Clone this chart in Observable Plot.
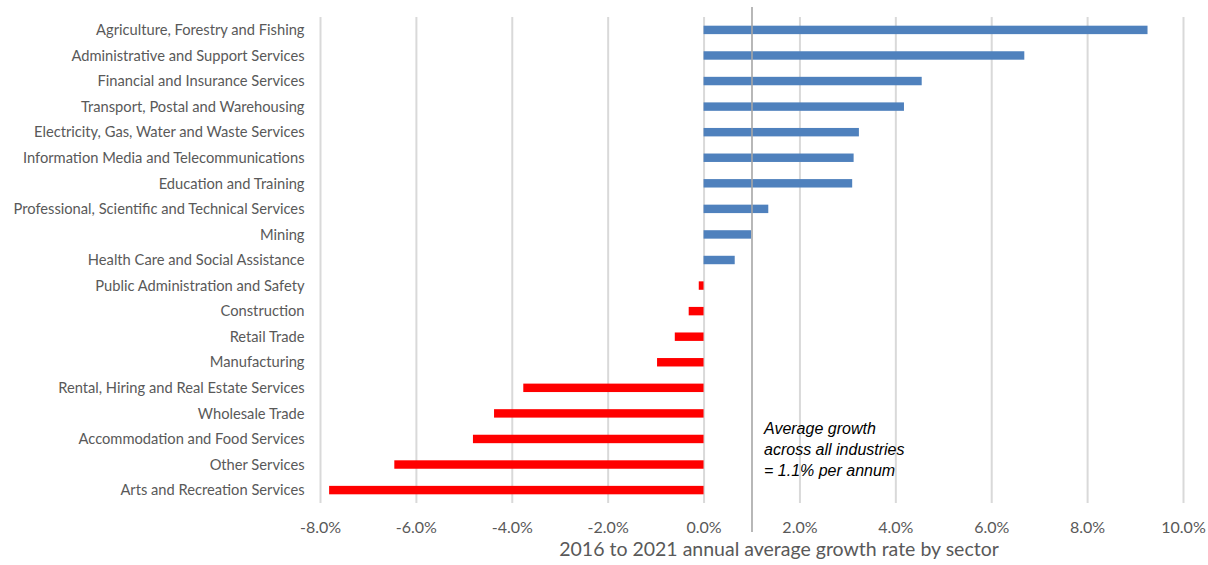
<!DOCTYPE html>
<html>
<head>
<meta charset="utf-8">
<script src="https://cdn.jsdelivr.net/npm/d3@7"></script>
<script src="https://cdn.jsdelivr.net/npm/@observablehq/plot@0.6"></script>
<style>
  html, body { margin: 0; padding: 0; background: #fff; }
  #chart svg { display: block; }
</style>
</head>
<body>
<div id="chart"></div>
<script>
const sectors = [
  "Agriculture, Forestry and Fishing",
  "Administrative and Support Services",
  "Financial and Insurance Services",
  "Transport, Postal and Warehousing",
  "Electricity, Gas, Water and Waste Services",
  "Information Media and Telecommunications",
  "Education and Training",
  "Professional, Scientific and Technical Services",
  "Mining",
  "Health Care and Social Assistance",
  "Public Administration and Safety",
  "Construction",
  "Retail Trade",
  "Manufacturing",
  "Rental, Hiring and Real Estate Services",
  "Wholesale Trade",
  "Accommodation and Food Services",
  "Other Services",
  "Arts and Recreation Services"
];
const growth = [9.26, 6.69, 4.55, 4.18, 3.24, 3.13, 3.10, 1.35, 0.99, 0.65,
  -0.10, -0.31, -0.60, -0.97, -3.76, -4.37, -4.81, -6.45, -7.81];
const xTicks = [-8, -6, -4, -2, 0, 2, 4, 6, 8, 10];
const avgLine = [1.0];
const annotation = "Average growth\nacross all industries\n= 1.1% per annum";
const axisTitle = "2016 to 2021 annual average growth rate by sector";

const data = sectors.map((s, i) => ({sector: s, value: growth[i]}));

const labelFont = "Lato, 'Open Sans', sans-serif";

const chart = Plot.plot({
  width: 1208,
  height: 565,
  marginLeft: 320,
  marginRight: 25,
  marginTop: 17,
  marginBottom: 62,
  style: {fontFamily: labelFont, color: "#595959", background: "#fff"},
  x: {domain: [-8, 10]},
  y: {domain: sectors, paddingInner: 0.67, paddingOuter: 0.34, round: false},
  marks: [
    Plot.gridX(xTicks, {stroke: "#d9d9d9", strokeOpacity: 1, strokeWidth: 2}),
    Plot.barX(data, {
      y: "sector",
      x1: 0,
      x2: "value",
      fill: d => d.value >= 0 ? "#4f81bd" : "#ff0000"
    }),
    Plot.ruleX(avgLine, {stroke: "#a6a6a6", strokeWidth: 1.6, insetTop: -10, insetBottom: -29, clip: false}),
    Plot.axisY({tickSize: 0, tickPadding: 16, fontSize: 14.7, fill: "#595959", label: null}),
    Plot.axisX(xTicks, {tickSize: 0, tickPadding: 18, fontSize: 16, fill: "#595959", label: null,
      tickFormat: d => d.toFixed(1) + "%"}),
    Plot.text([annotation], {
      x: avgLine[0],
      y: () => "Accommodation and Food Services",
      dx: 12,
      dy: 9,
      textAnchor: "start",
      lineAnchor: "middle",
      lineHeight: 1.3,
      fontSize: 16,
      fontStyle: "italic",
      fontFamily: "'Liberation Sans', Arial, sans-serif",
      fill: "#000"
    }),
    Plot.text([axisTitle], {
      frameAnchor: "bottom",
      dx: 27,
      dy: 52,
      fontSize: 19.5,
      fill: "#595959"
    })
  ]
});
document.getElementById("chart").appendChild(chart);
</script>
</body>
</html>
